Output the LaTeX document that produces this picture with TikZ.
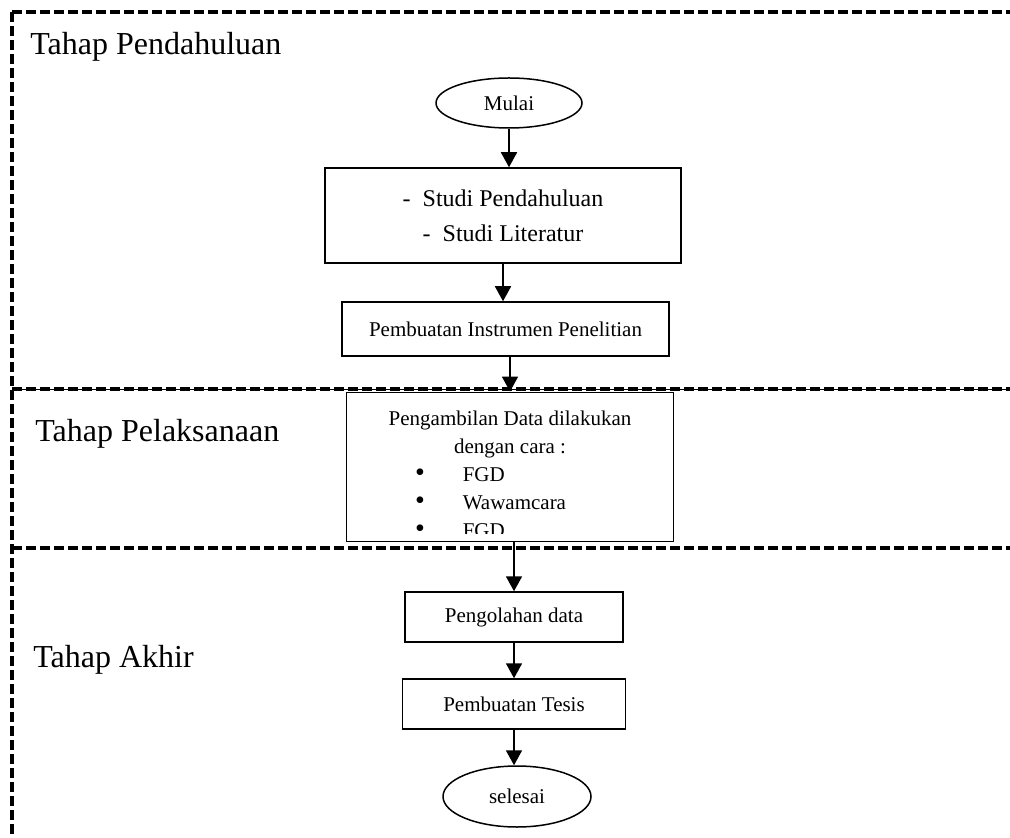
\documentclass[tikz,border=0pt]{standalone}
\usepackage{fontspec}
\setmainfont{Liberation Serif}
\usetikzlibrary{arrows.meta,shapes}
\newcommand{\butir}{{\fontsize{14}{14}\selectfont\textbullet}\hspace{19pt}}

\begin{document}
\begin{tikzpicture}[x=0.5pt,y=-0.5pt,>={Triangle[width=8pt,length=7.5pt]},
kotak/.style={draw,line width=0.75pt,inner sep=2pt,align=center,font=\fontsize{10.5}{13.5}\selectfont},
elips/.style={draw,ellipse,line width=0.75pt,inner sep=0pt,font=\fontsize{10.5}{13.5}\selectfont},
judul/.style={anchor=base west,inner sep=0pt,font=\fontsize{16}{19}\selectfont},
garis/.style={line width=1.75pt,dash pattern=on 5pt off 2pt},
panah/.style={->,line width=0.9pt}]
\useasboundingbox (0,0) rectangle (1010,838);
\draw[garis](12,12)--(1010,12)
(12,12)--(12,838);
\draw[line width=0.4pt](12,389)--(1010,389);
\draw[garis](12,389)--(1010,389);
\node[judul](pendahuluan) at (30,55){Tahap Pendahuluan};
\node[judul](pelaksanaan) at (35,442){Tahap Pelaksanaan};
\node[judul](akhir) at (33,667){Tahap Akhir};
\node[elips,minimum width=73pt,minimum height=25pt](mulai) at (509,103){Mulai};
\node[kotak,minimum width=178pt,minimum height=47.5pt,font=\fontsize{12}{17.5}\selectfont](studi) at (503,215.5)
{-\ \ Studi Pendahuluan\\-\ \ Studi Literatur};
\node[kotak,minimum width=163.5pt,minimum height=27pt](instrumen) at (505.5,329){Pembuatan Instrumen Penelitian};
\node[kotak,minimum width=163.5pt,minimum height=74pt,font=\fontsize{10.5}{14}\selectfont](ambil) at (510,467)
{\rule{0pt}{14.6pt}Pengambilan Data dilakukan\\dengan cara :\\
\makebox[95pt][l]{\butir FGD}\\
\makebox[95pt][l]{\butir Wawamcara}\\
\makebox[95pt][l]{\butir FGD}};
\fill[white]([shift={(2.5,-2.5)}]ambil.south west)rectangle([shift={(-2.5,-8)}]ambil.south east);
\draw[garis](12,548)--(1010,548);
\node[kotak,minimum width=109pt,minimum height=25pt](pengolahan) at (514,617){Pengolahan data};
\node[kotak,minimum width=111.5pt,minimum height=25pt](tesis) at (514,704){Pembuatan Tesis};
\node[elips,minimum width=74pt,minimum height=30.5pt](selesai) at (517,796.5){selesai};
\draw[panah](mulai.south)--(mulai.south|-studi.north);
\draw[panah](studi.south)--(studi.south|-instrumen.north);
\draw[panah](ambil.north|-instrumen.south)--(ambil.north);
\draw[panah](pengolahan.north|-ambil.south)--(pengolahan.north);
\draw[panah](tesis.north|-pengolahan.south)--(tesis.north);
\draw[panah](tesis.south)--(tesis.south|-selesai.north);
\end{tikzpicture}
\end{document}
